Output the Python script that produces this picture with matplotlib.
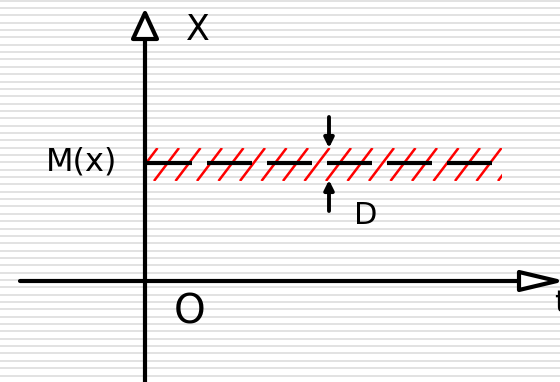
import numpy as np
import matplotlib
matplotlib.use('Agg')
import matplotlib.pyplot as plt
from matplotlib.patches import Polygon, Rectangle

# diagram geometry (pixel space of the picture)
origin = (145, 281)          # where the t axis meets the X axis
x_top = 13                   # tip of the X axis arrow
t_right = 557                # tip of the t axis arrow
t_left = 20
mean_level = 163             # M(x)
band_top, band_bottom = 148, 181   # the spread D around M(x)
band_left, band_right = 147, 502
hatch_tops = np.arange(157.5, 535, 21.5)
hatch_shift = 25
d_arrow_x = 329

labels = {'X': (198, 30), 'M(x)': (82, 162), 'D': (366, 216), 'O': (190, 313), 't': (554, 303)}
label_sizes = {'X': 25, 'M(x)': 23, 'D': 22, 'O': 29, 't': 22}

plt.rcParams['lines.scale_dashes'] = False
fig = plt.figure(figsize=(5.6, 3.82), dpi=100)
ax = fig.add_axes([0, 0, 1, 1])
ax.set_xlim(0, 560)
ax.set_ylim(382, 0)
ax.axis('off')

# striped background
for y in np.arange(0.7, 382, 7.35):
    ax.axhline(y, color='#e2e2e2', lw=1.4, zorder=0)

# hatched band
clip = Rectangle((band_left, band_top), band_right - band_left, band_bottom - band_top,
                 fill=False, lw=0, transform=ax.transData)
ax.add_patch(clip)
for xt in hatch_tops:
    ln, = ax.plot([xt, xt - hatch_shift], [band_top, band_bottom], color='red', lw=1.8,
                  solid_capstyle='butt', zorder=2)
    ln.set_clip_path(clip)

# mean line
ax.plot([band_left, band_right], [mean_level, mean_level], color='black', lw=3,
        dashes=(32.4, 10.8), dash_capstyle='butt', zorder=3)

# axes
ax.plot([origin[0], origin[0]], [382, 40], color='black', lw=3, zorder=4)
ax.plot([t_left, 519], [origin[1], origin[1]], color='black', lw=3,
        solid_capstyle='round', zorder=4)
ax.add_patch(Polygon([(origin[0], x_top), (origin[0] - 12, 39), (origin[0] + 12, 39)],
                     closed=True, facecolor='white', edgecolor='black', lw=3,
                     joinstyle='round', zorder=5))
ax.add_patch(Polygon([(t_right, origin[1]), (519, origin[1] - 9), (519, origin[1] + 9)],
                     closed=True, facecolor='white', edgecolor='black', lw=3,
                     joinstyle='round', zorder=5))

# D arrows
ax.annotate('', xy=(d_arrow_x, band_top), xytext=(d_arrow_x, 117),
            arrowprops=dict(arrowstyle='-|>', lw=2.8, color='black', mutation_scale=14,
                            shrinkA=0, shrinkB=0))
ax.annotate('', xy=(d_arrow_x, band_bottom - 1), xytext=(d_arrow_x, 211),
            arrowprops=dict(arrowstyle='-|>', lw=2.8, color='black', mutation_scale=14,
                            shrinkA=0, shrinkB=0))

for txt, (x, y) in labels.items():
    ha = 'left' if txt == 't' else 'center'
    ax.text(x, y, txt, fontsize=label_sizes[txt], ha=ha, va='center', color='black',
            zorder=6)

fig.savefig('out.png', dpi=100)
